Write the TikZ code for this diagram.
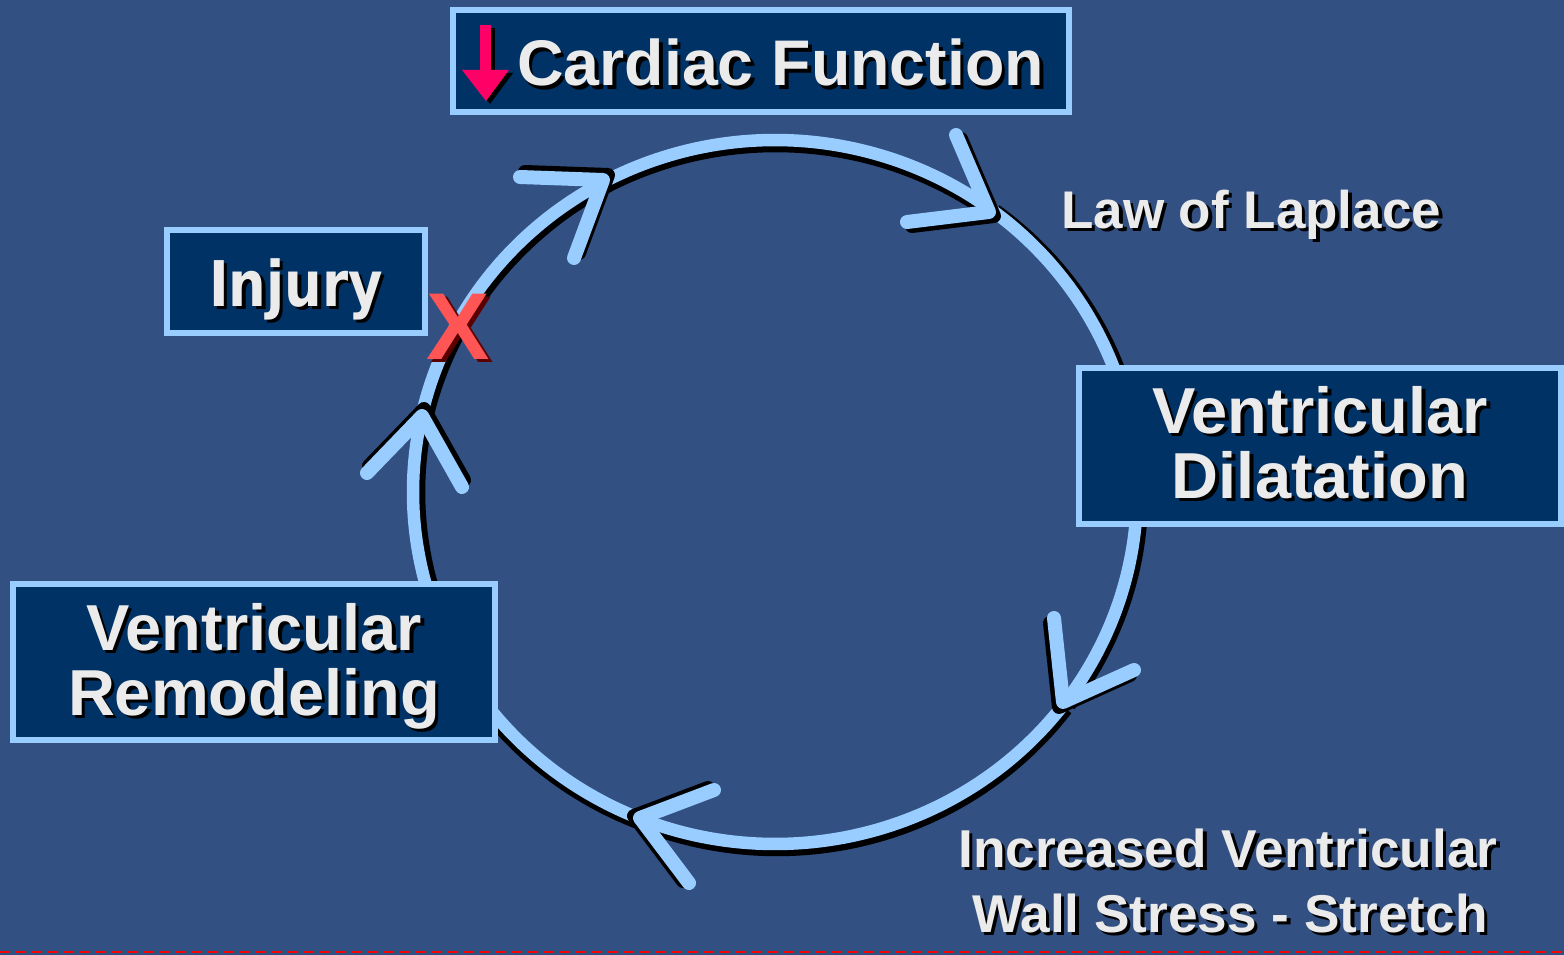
\documentclass[tikz,border=0pt]{standalone}
\usepackage{fontspec}
\setmainfont{Liberation Sans}
\newfontfamily\injfont[FakeStretch=0.84]{DejaVu Sans}
\definecolor{bg}{RGB}{50,80,130}
\definecolor{navy}{RGB}{0,50,102}
\definecolor{lblue}{RGB}{153,204,255}
\definecolor{txt}{RGB}{235,235,235}
\definecolor{pinkarrow}{RGB}{255,0,102}
\definecolor{xred}{RGB}{255,85,85}
\definecolor{xshadow}{RGB}{90,0,0}
\tikzset{
  box/.style={draw=lblue, fill=navy, line width=6pt, inner sep=0pt},
  ring/.style={draw=lblue, line width=12.5pt},
  ringshadow/.style={draw=black, line width=12.5pt},
  chev/.style={draw=lblue, line width=14pt, line cap=round, line join=round},
  chevshadow/.style={draw=black, line width=14pt, line cap=round, line join=round},
  lbl/.style={text=txt, inner sep=0pt},
}
% text with a black drop shadow, in one box
\newcommand\shadowed[2][black]{\leavevmode\rlap{\kern3.5pt\raisebox{-3.5pt}{\textcolor{#1}{#2}}}#2}
\newcommand\fsz[1]{\bfseries\fontsize{#1}{#1}\selectfont}
\begin{document}
\begin{tikzpicture}[x=1pt, y=-1pt]
\useasboundingbox (0,0) rectangle (1564,955);
\fill[bg] (0,0) rectangle (1564,955);

% ring shadows and ring
\begin{scope}[shift={(775,492)}]
\foreach \a/\b/\dx/\dy in {160/192.3/6/0, 192.3/242/5/4, 242/306.6/1/6, 306.6/345/5/1, 355/396.9/5/2, 396.9/472/2/6, 472/505/-3/4}{
  \draw[ringshadow, shift={(\dx,\dy)}] plot[domain=\a:\b, samples=60, variable=\t] ({362*cos(\t)},{352*sin(\t)});
}
\foreach \a/\b in {160/192.3, 192.3/242, 242/306.6, 306.6/345, 355/396.9, 396.9/472, 472/505}{
  \draw[ring] plot[domain=\a:\b, samples=60, variable=\t] ({362*cos(\t)},{352*sin(\t)});
}
\end{scope}

% chevron arrowheads
\foreach \tx/\ty/\ax/\ay/\bx/\by/\sx/\sy in {
  603/180/520/177/574/258/5/-5,
  989/212/956/135/907/222/5/4,
  1063/702/1054/618/1134/670/-4/5,
  640/818/714/790/689/883/-6/-2,
  422/416/367/473/462/487/2/-7}{
  \draw[chevshadow, shift={(\sx,\sy)}] (\ax,\ay) -- (\tx,\ty) -- (\bx,\by);
  \draw[chev] (\ax,\ay) -- (\tx,\ty) -- (\bx,\by);
}

% boxes
\node[box, minimum width=616pt, minimum height=102pt] (cf) at (761,61) {};
\node[box, minimum width=257.7pt, minimum height=102.4pt] (inj) at (295.85,281.5) {};
\node[box, minimum width=482.5pt, minimum height=156pt] (dil) at (1319.75,446) {};
\node[box, minimum width=482.3pt, minimum height=156.6pt] (rem) at (254.15,662) {};

% pink down arrow
\fill[black] (484,28) rectangle (495,75);
\fill[black] (466,73) -- (513,73) -- (490,104) -- cycle;
\fill[pinkarrow] (480,25) rectangle (491,72);
\fill[pinkarrow] (462,70) -- (509,70) -- (486,101) -- cycle;

% texts
\node[lbl, anchor=base west, font=\fsz{64.5}] (cft) at (517,86) {\shadowed{Cardiac Function}};
\node[lbl, anchor=base, font=\injfont\fsz{63}] (injt) at (296,306) {\shadowed{Injury}};
\node[lbl, anchor=base, font=\fsz{65}] (dil1) at (1320,433) {\shadowed{Ventricular}};
\node[lbl, anchor=base, font=\fsz{65}] (dil2) at (1320,498) {\shadowed{Dilatation}};
\node[lbl, anchor=base, font=\fsz{65}] (rem1) at (254,650) {\shadowed{Ventricular}};
\node[lbl, anchor=base, font=\fsz{65}] (rem2) at (254,715) {\shadowed{Remodeling}};
\node[lbl, anchor=base west, font=\fsz{53}] (lap) at (1061,228) {\shadowed{Law of Laplace}};
\node[lbl, anchor=base west, font=\fsz{53.3}] (inc1) at (958,867) {\shadowed{Increased Ventricular}};
\node[lbl, anchor=base west, font=\fsz{53.2}] (inc2) at (972,932) {\shadowed{Wall Stress - Stretch}};

% red X
\node[text=xred, inner sep=0pt, anchor=base, font=\fsz{95}] (xmark) at (458.5,359) {\shadowed[xshadow]{X}};

% bottom dashed line
\draw[red, line width=2.5pt, dash pattern=on 10pt off 6pt] (0,952) -- (1564,952);
\end{tikzpicture}
\end{document}
